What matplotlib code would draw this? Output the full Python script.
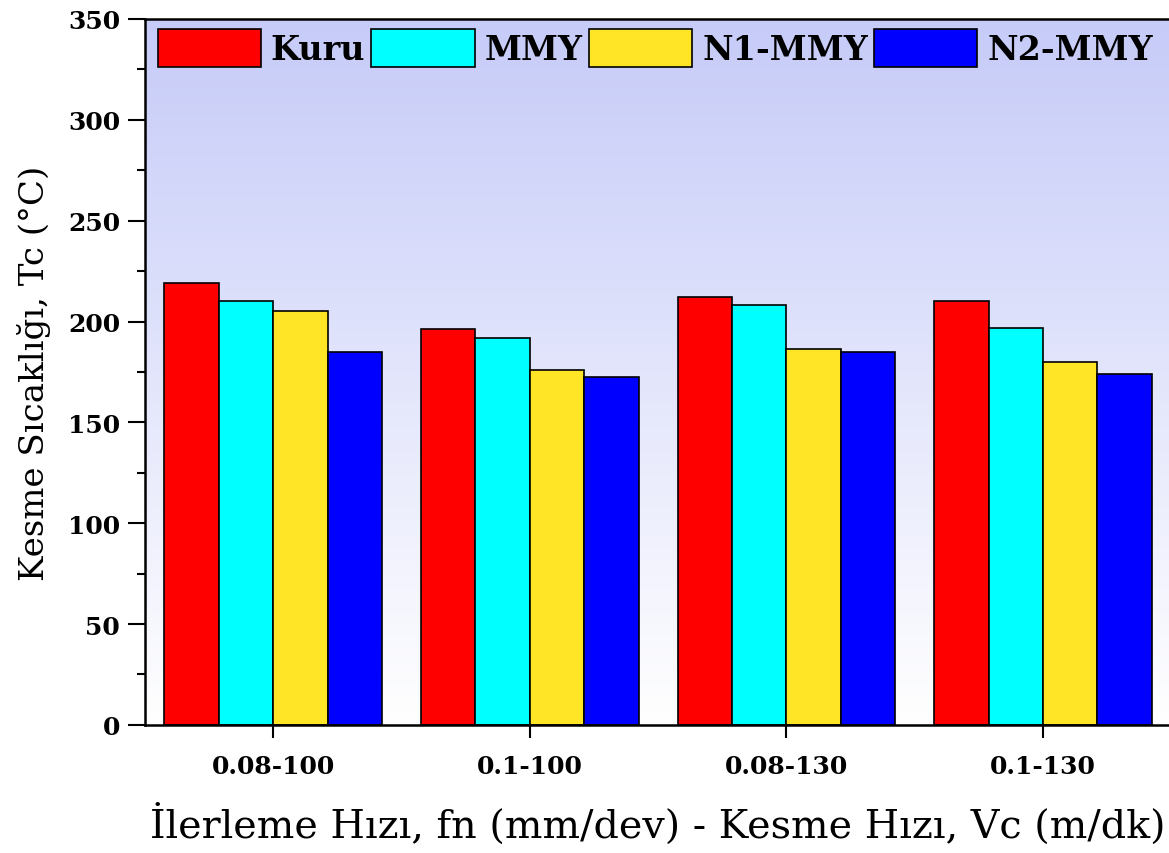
import numpy as np
import matplotlib
matplotlib.use("Agg")
import matplotlib.pyplot as plt
from matplotlib.ticker import MultipleLocator
from matplotlib.colors import LinearSegmentedColormap

# cutting conditions: feed rate - cutting speed
conditions = ["0.08-100", "0.1-100", "0.08-130", "0.1-130"]
series_names = ["Kuru", "MMY", "N1-MMY", "N2-MMY"]
kuru = [219, 196.5, 212, 210]
mmy = [210, 192, 208, 197]
n1_mmy = [205, 176, 186.5, 180]
n2_mmy = [185, 172.5, 185, 174]
bar_colors = ["#ff0000", "#00ffff", "#ffe526", "#0000ff"]

plt.rcParams["font.family"] = ["DejaVu Serif"]

fig = plt.figure(figsize=(11.69, 8.54), dpi=100)
ax = fig.add_axes([0.124, 0.150, 0.878, 0.8266])

# vertical gradient background inside the axes
cmap = LinearSegmentedColormap.from_list("bg", ["#ffffff", "#c6cbf8"])
grad = np.linspace(0, 1, 256).reshape(-1, 1)
ax.imshow(grad, aspect="auto", cmap=cmap, origin="lower",
          extent=[-0.5, 3.5, 0, 350], zorder=0)

x = np.arange(len(conditions))
w = 0.212
all_series = [kuru, mmy, n1_mmy, n2_mmy]
for i, (vals, name, col) in enumerate(zip(all_series, series_names, bar_colors)):
    ax.bar(x + (i - 1.5) * w, vals, w, color=col, edgecolor="black",
           linewidth=1.2, label=name, zorder=2)

ax.set_xlim(-0.5, 3.5)
ax.set_ylim(0, 350)
ax.set_xticks(x)
ax.set_xticklabels(conditions)
ax.yaxis.set_major_locator(MultipleLocator(50))
ax.yaxis.set_minor_locator(MultipleLocator(25))

for lab in ax.get_xticklabels() + ax.get_yticklabels():
    lab.set_fontweight("bold")
    lab.set_fontsize(18)

ax.tick_params(axis="x", which="major", direction="out", length=9, width=1.5, pad=12)
ax.tick_params(axis="y", which="major", direction="out", length=12, width=1.5, pad=6)
ax.tick_params(axis="y", which="minor", direction="out", length=6, width=1.5)
ax.tick_params(top=False, right=False)

for side in ["left", "bottom", "top", "right"]:
    ax.spines[side].set_linewidth(1.8)

ax.set_ylabel("Kesme Sıcaklığı, Tc (°C)", fontsize=24.5, labelpad=12)
ax.set_xlabel("İlerleme Hızı, fn (mm/dev) - Kesme Hızı, Vc (m/dk)",
              fontsize=28.5, labelpad=18)

ax.legend(loc="upper left", bbox_to_anchor=(0.009, 0.99), ncol=4, frameon=False,
          prop={"weight": "bold", "size": 24}, handlelength=3.1, handleheight=1.35,
          handletextpad=0.3, columnspacing=0.18, borderpad=0.1, borderaxespad=0)

fig.savefig("out.png", dpi=100)
